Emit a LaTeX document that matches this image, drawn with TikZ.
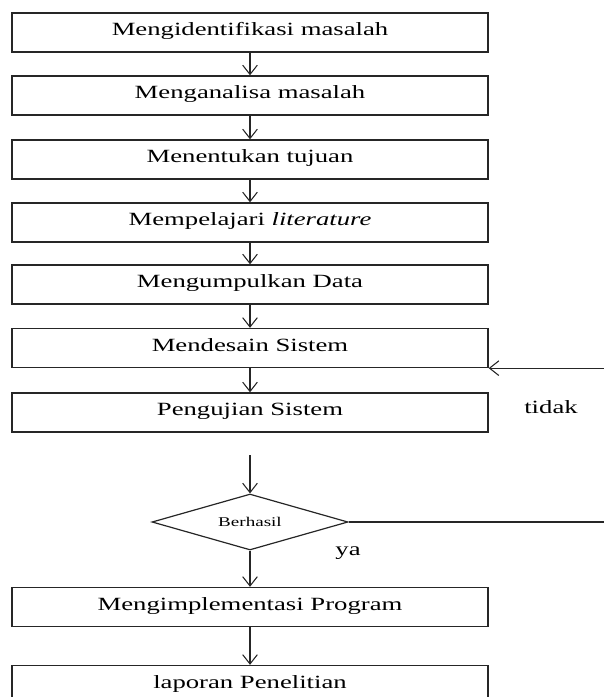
\documentclass[tikz,border=0pt]{standalone}
\usepackage{fontspec}
\setmainfont{Liberation Serif}
\usepackage{graphicx}
\usetikzlibrary{arrows.meta}
\usetikzlibrary{shapes.geometric}
\newcommand{\widetxt}[1]{\scalebox{1.43}[1]{#1}}

\begin{document}
\begin{tikzpicture}[x=0.75pt,y=0.75pt,yscale=-1,xscale=1,
	stepbox/.style={draw=black!85, line width=1pt, minimum width=357pt, minimum height=29.25pt, inner sep=0pt, text height=7pt, text depth=2.5pt, font=\fontsize{14}{16}\selectfont},
	decbox/.style={diamond, aspect=3.5, draw=black!85, line width=0.9pt, minimum width=147pt, minimum height=42pt, inner sep=0pt, font=\fontsize{10}{12}\selectfont},
	flow/.style={draw=black!85, line width=0.8pt, -{Straight Barb[length=7pt,width=11pt]}},
	lbl/.style={inner sep=0pt, anchor=base, font=\fontsize{14}{16}\selectfont}]
	\useasboundingbox (0,0) rectangle (604,697);

	% Steps
	\node[stepbox] (idn) at (250,32.5) {\widetxt{Mengidentifikasi masalah}};
	\node[stepbox] (anl) at (250,95.5) {\widetxt{Menganalisa masalah}};
	\node[stepbox] (tuj) at (250,159.5) {\widetxt{Menentukan tujuan}};
	\node[stepbox] (lit) at (250,222.5) {\widetxt{Mempelajari \textit{literature}}};
	\node[stepbox] (dat) at (250,284.5) {\widetxt{Mengumpulkan Data}};
	\node[stepbox] (dsn) at (250,348) {\widetxt{Mendesain Sistem}};
	\node[stepbox] (uji) at (250,412.5) {\widetxt{Pengujian Sistem}};
	% Decision
	\node[decbox] (hsl) at (250,522) {\widetxt{Berhasil}};
	\node[stepbox] (imp) at (250,607) {\widetxt{Mengimplementasi Program}};
	\node[stepbox] (lap) at (250,685) {\widetxt{laporan Penelitian}};
	% Text Node
	\node[lbl] (tdk) at (551,413) {\widetxt{tidak}};
	% Text Node
	\node[lbl] (ya) at (348,555) {\widetxt{ya}};

	% Arrows
	\draw[flow] (idn) -- (anl);
	\draw[flow] (anl) -- (tuj);
	\draw[flow] (tuj) -- (lit);
	\draw[flow] (lit) -- (dat);
	\draw[flow] (dat) -- (dsn);
	\draw[flow] (dsn) -- (uji);
	\coordinate (gap) at (250,455);
	\draw[flow] (gap) -- (hsl);
	\coordinate (rt) at (607,522);
	\draw[flow] (hsl.east) -- (rt) |- (dsn.south east);
	\draw[flow] (hsl) -- (imp);
	\draw[flow] (imp) -- (lap);

\end{tikzpicture}
\end{document}
